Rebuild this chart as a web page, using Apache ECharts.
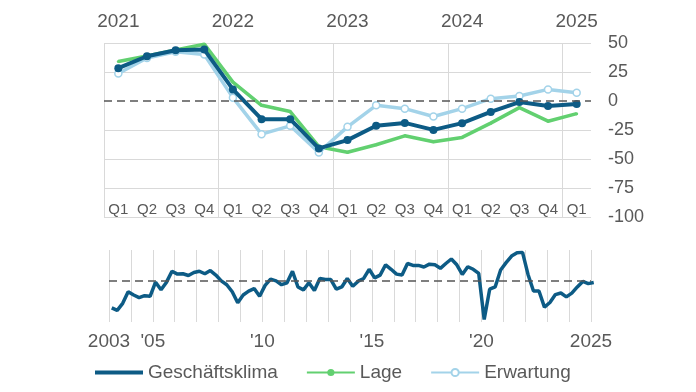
<!DOCTYPE html>
<html><head><meta charset="utf-8">
<script src="https://cdn.jsdelivr.net/npm/echarts@6/dist/echarts.min.js"></script>
<style>html,body{margin:0;padding:0;background:#fff}#c{width:696px;height:392px}</style>
</head><body><div id="c"></div>
<script>
var quarterLabels = ['Q1','Q2','Q3','Q4','Q1','Q2','Q3','Q4','Q1','Q2','Q3','Q4','Q1','Q2','Q3','Q4','Q1'];
var yearLabels = ['2021','','','','2022','','','','2023','','','','2024','','','','2025'];
var klima = [28.3, 38.6, 43.7, 44.3, 10, -15.7, -15.7, -40.9, -33.7, -21.4, -18.9, -24.9, -19.1, -9.4, -0.9, -4.3, -2.6];
var lage = [34, 38.8, 44, 49, 16.3, -3.7, -9.1, -39.4, -44.2, -37.7, -30, -35.1, -31.4, -19.1, -5.7, -17.4, -10.9];
var erwartung = [23.7, 37, 42.5, 40, 2.9, -28.6, -21.4, -44.3, -22.3, -3.7, -6.6, -13.4, -6.6, 2, 4.3, 10, 7.1];
var historyStartYear = 2003;
var historyValues = [-42, -46, -35, -17, -22, -26, -23, -24, -2, -14, -2, 15, 10.5, 11, 8.4, 13, 15, 11, 16, 9,
  0, -6, -17, -34, -22, -16, -12, -24, -7, 2.6, 0, -6, -3, 15, -9.5, -14, -3, -15, 3.7, 2,
  2, -13, -9.5, 3.7, -8.4, -0.5, 3.7, 18, 4.7, 9, 25, 18, 10.5, 9, 27, 24, 24, 21.6, 26, 25,
  19.5, 27, 34, 25, 10, 22, 18, 11.6, -60, -13, -9.5, 17,
  28.3, 38.6, 43.7, 44.3, 10, -15.7, -15.7, -40.9, -33.7, -21.4, -18.9, -24.9, -19.1, -9.4, -0.9, -4.3, -2.6];
var historyTickLabels = {2003:'2003', 2005:"'05", 2010:"'10", 2015:"'15", 2020:"'20", 2025:'2025'};

var C_KLIMA = '#0d5b85', C_LAGE = '#62d070', C_ERW = '#a3d3e9';
var TXT = '#595959', GRID = '#d9d9d9', FONT = "'Liberation Sans', Arial, sans-serif";
var NONE = 'rgba(0,0,0,0)';

var historyData = historyValues.map(function (v, i) {
  return [historyStartYear + (i + 0.5) / 4, v];
});

var zeroLine = {
  silent: true, symbol: 'none', label: {show: false},
  lineStyle: {color: '#555', type: [8, 5], width: 1.5},
  data: [{yAxis: 0}]
};

var chart = echarts.init(document.getElementById('c'), null, {renderer: 'canvas'});
chart.setOption({
  animation: false,
  textStyle: {fontFamily: FONT},
  grid: [
    {left: 104, right: 105, top: 43, height: 174},
    {left: 109, width: 482, top: 250, height: 72}
  ],
  xAxis: [
    {type: 'category', gridIndex: 0, data: quarterLabels, position: 'bottom', boundaryGap: true,
     axisLine: {show: false}, axisTick: {show: false},
     axisLabel: {inside: true, margin: 0, color: TXT, fontSize: 15, fontFamily: FONT, interval: 0},
     splitLine: {show: true, showMaxLine: false, interval: function (i) { return i % 4 === 0; },
       lineStyle: {color: GRID, width: 1}}},
    {type: 'category', gridIndex: 0, data: yearLabels, position: 'top', boundaryGap: true,
     axisLine: {show: false}, axisTick: {show: false},
     axisLabel: {margin: 12, color: TXT, fontSize: 19, fontFamily: FONT, interval: 0},
     splitLine: {show: false}},
    {type: 'value', gridIndex: 1, min: 2003, max: 2025, interval: 1,
     axisLine: {show: false}, axisTick: {show: false},
     axisLabel: {margin: 10, color: TXT, fontSize: 19, fontFamily: FONT, showMinLabel: true, showMaxLabel: true,
       formatter: function (v) { return historyTickLabels[Math.round(v)] || ''; }},
     splitLine: {show: true, lineStyle: {color: GRID, width: 1}}}
  ],
  yAxis: [
    {type: 'value', gridIndex: 0, position: 'right', min: -100, max: 50, interval: 25,
     axisLine: {show: false}, axisTick: {show: false},
     axisLabel: {margin: 17, color: TXT, fontSize: 18, fontFamily: FONT, align: 'left'},
     splitLine: {show: true, lineStyle: {color: [GRID, GRID, GRID, GRID, NONE, GRID, GRID], width: 1}}},
    {type: 'value', gridIndex: 1, min: -64, max: 48, show: false, splitLine: {show: false}}
  ],
  legend: {
    left: 90, top: 358, itemWidth: 48, itemHeight: 9, itemGap: 28,
    textStyle: {color: TXT, fontSize: 19, fontFamily: FONT},
    data: [
      {name: 'Geschäftsklima', icon: 'path://M0,0L48,0L48,4L0,4Z'},
      {name: 'Lage'},
      {name: 'Erwartung'}
    ]
  },
  series: [
    {name: 'Lage', type: 'line', xAxisIndex: 0, yAxisIndex: 0, data: lage,
     color: C_LAGE, lineStyle: {width: 3.5, color: C_LAGE},
     symbol: 'circle', symbolSize: 3, itemStyle: {color: C_LAGE}, z: 2},
    {name: 'Erwartung', type: 'line', xAxisIndex: 0, yAxisIndex: 0, data: erwartung,
     color: C_ERW, lineStyle: {width: 3.5, color: C_ERW},
     symbol: 'circle', symbolSize: 7, itemStyle: {color: '#fff', borderColor: C_ERW, borderWidth: 1.5}, z: 3},
    {name: 'Geschäftsklima', type: 'line', xAxisIndex: 0, yAxisIndex: 0, data: klima,
     color: C_KLIMA, lineStyle: {width: 4, color: C_KLIMA},
     symbol: 'circle', symbolSize: 8, itemStyle: {color: C_KLIMA}, z: 4,
     markLine: zeroLine},
    {name: 'Geschäftsklima', type: 'line', xAxisIndex: 2, yAxisIndex: 1, data: historyData,
     color: C_KLIMA, lineStyle: {width: 3.5, color: C_KLIMA}, showSymbol: false, symbol: 'none', z: 4,
     markLine: zeroLine}
  ]
});
</script></body></html>
